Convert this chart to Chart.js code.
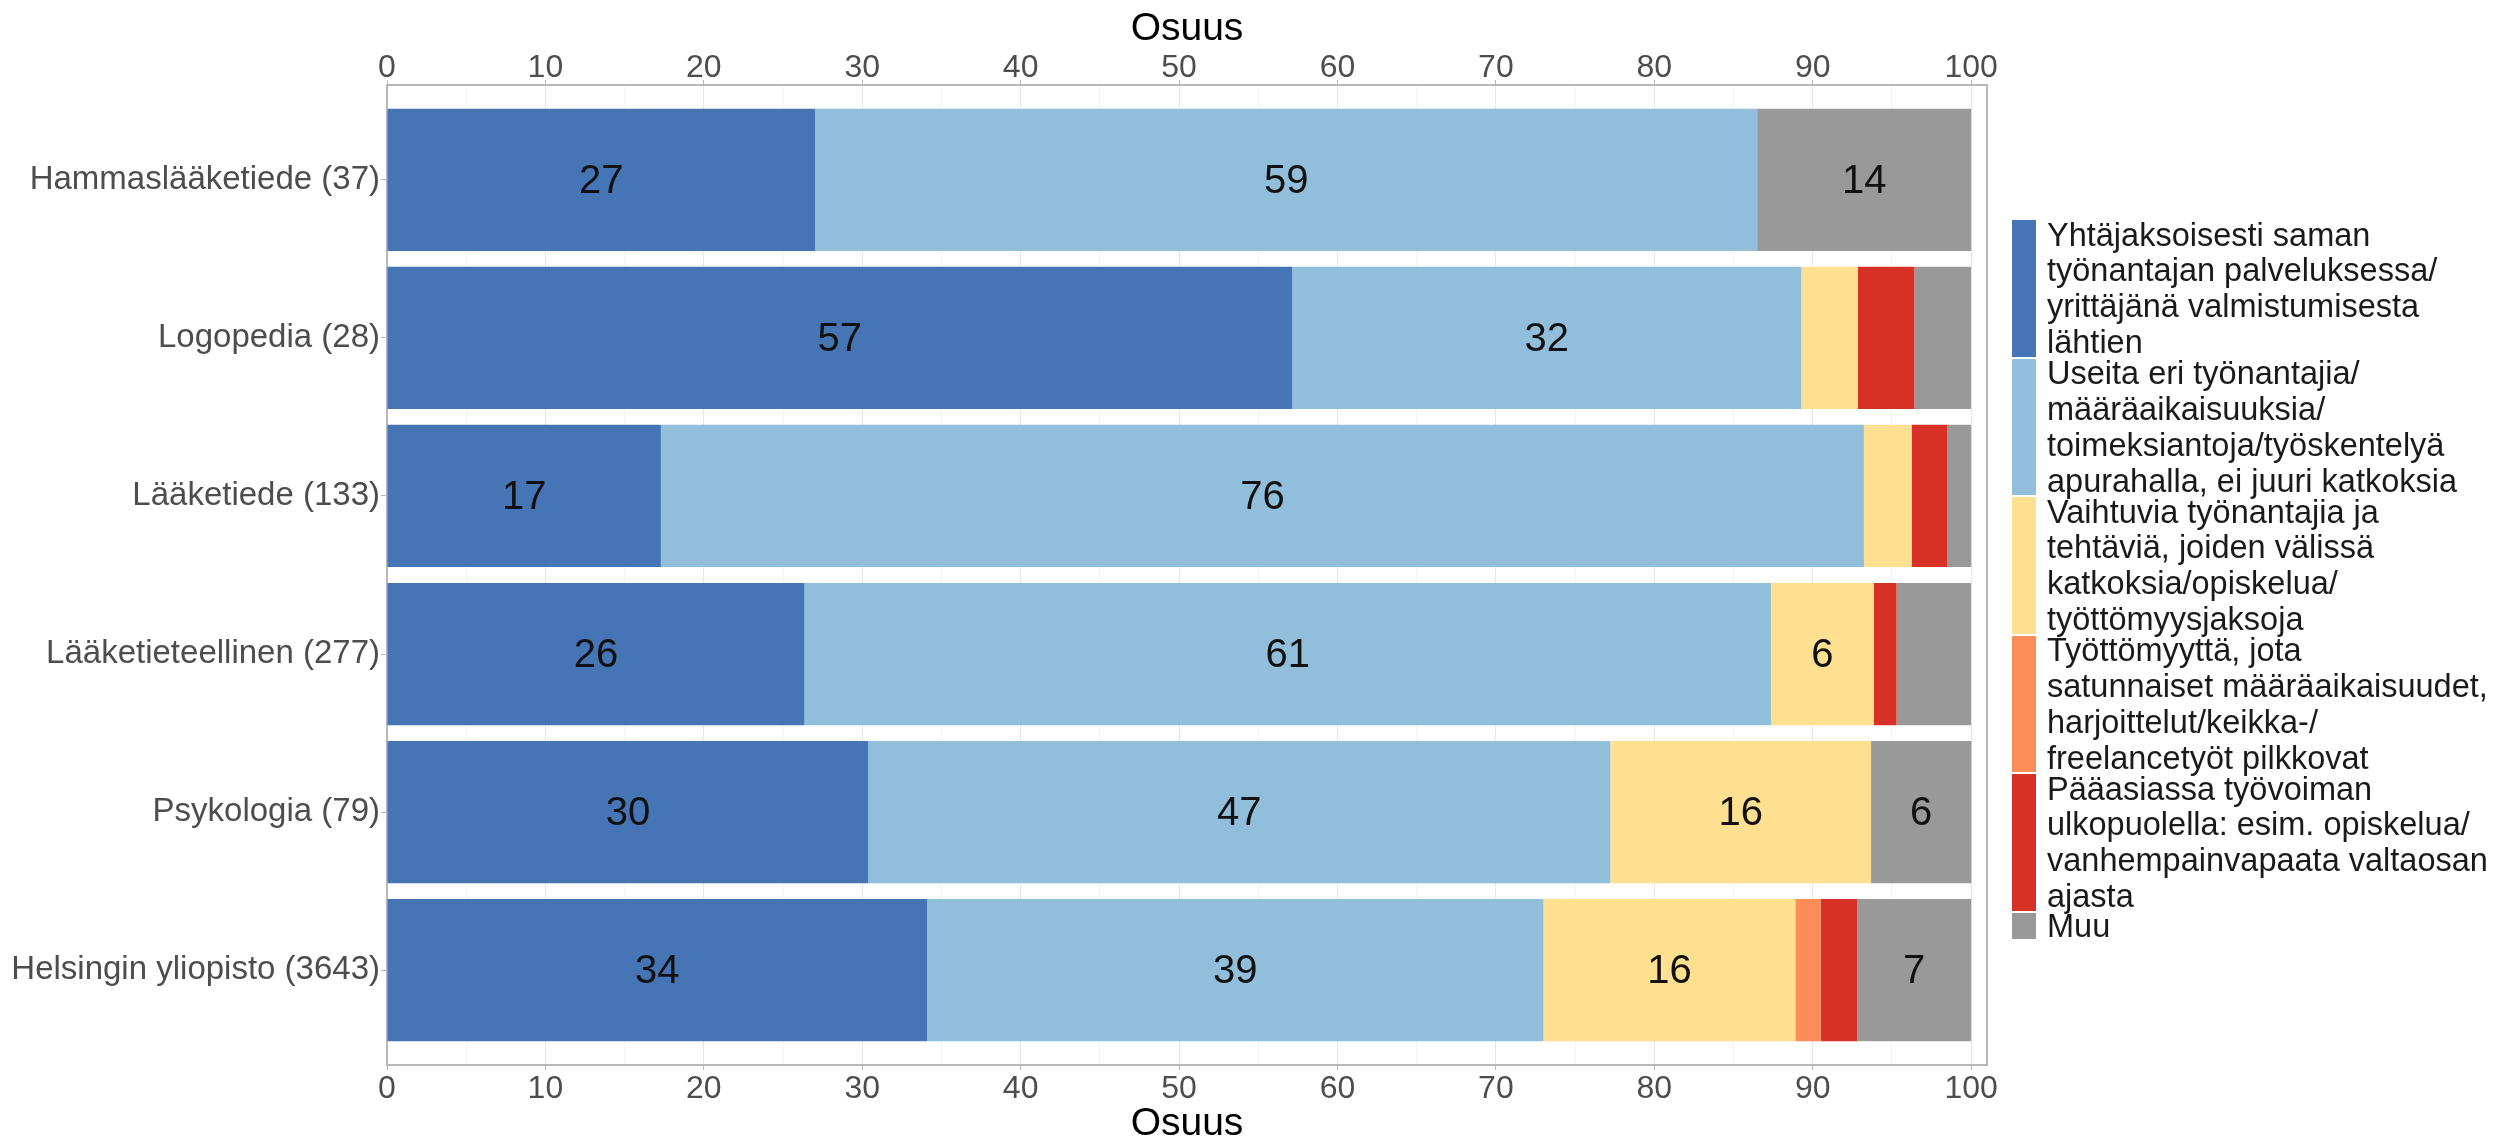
<!DOCTYPE html>
<html>
<head>
<meta charset="utf-8">
<script src="https://cdn.jsdelivr.net/npm/chart.js@4.4.1/dist/chart.umd.min.js"></script>
<style>
  body { margin: 0; background: #fff; }
  #wrap { position: relative; width: 2504px; height: 1140px; }
  #legend { position: absolute; left: 2012px; top: 220px; font-family: "Liberation Sans", Arial, sans-serif; font-size: 32.5px; color: #1a1a1a; }
  .item { display: flex; align-items: center; }
  .key { width: 24px; height: 100%; margin-right: 11px; flex: none; box-sizing: border-box; border-bottom: 2px solid #fff; }
  .txt { white-space: pre-line; line-height: 35.8px; }
</style>
</head>
<body>
<div id="wrap">
  <canvas id="chart" width="2504" height="1140"></canvas>
  <div id="legend"></div>
</div>
<script>
const categories = [
  "Hammaslääketiede (37)",
  "Logopedia (28)",
  "Lääketiede (133)",
  "Lääketieteellinen (277)",
  "Psykologia (79)",
  "Helsingin yliopisto (3643)"
];

const seriesNames = [
  "Yhtäjaksoisesti saman\ntyönantajan palveluksessa/\nyrittäjänä valmistumisesta\nlähtien",
  "Useita eri työnantajia/\nmääräaikaisuuksia/\ntoimeksiantoja/työskentelyä\napurahalla, ei juuri katkoksia",
  "Vaihtuvia työnantajia ja\ntehtäviä, joiden välissä\nkatkoksia/opiskelua/\ntyöttömyysjaksoja",
  "Työttömyyttä, jota\nsatunnaiset määräaikaisuudet,\nharjoittelut/keikka-/\nfreelancetyöt pilkkovat",
  "Pääasiassa työvoiman\nulkopuolella: esim. opiskelua/\nvanhempainvapaata valtaosan\najasta",
  "Muu"
];

const yhtajaksoisesti = [27.03, 57.14, 17.29, 26.35, 30.38, 34.1];
const useita = [59.46, 32.14, 75.94, 61.01, 46.84, 38.9];
const vaihtuvia = [0, 3.57, 3.01, 6.49, 16.46, 15.9];
const tyottomyytta = [0, 0, 0, 0, 0, 1.6];
const paaasiassa = [0, 3.57, 2.26, 1.44, 0, 2.3];
const muu = [13.51, 3.57, 1.50, 4.70, 6.33, 7.2];

const xTickLabels = [0, 10, 20, 30, 40, 50, 60, 70, 80, 90, 100];

const seriesValues = [yhtajaksoisesti, useita, vaihtuvia, tyottomyytta, paaasiassa, muu];
const colors = ["#4575b4", "#91bfdb", "#fee090", "#fc8d59", "#d73027", "#999999"];

const FONT = "'Liberation Sans', Arial, sans-serif";
const GREY_TEXT = "#4d4d4d";
const BORDER = "#b8b8b8";

// major ticks every 10 plus minor gridlines half way between
function xTicks(scale) {
  const t = [];
  xTickLabels.forEach((v, i) => {
    t.push({ value: v });
    if (i < xTickLabels.length - 1) t.push({ value: (v + xTickLabels[i + 1]) / 2 });
  });
  scale.ticks = t;
}
const isMajor = v => xTickLabels.includes(v);

function xAxis(position, height, drawGrid) {
  const top = position === "top";
  return {
    type: "linear",
    position,
    min: 0,
    max: 101,
    stacked: true,
    afterBuildTicks: xTicks,
    afterFit: s => { s.height = height; },
    ticks: {
      font: { family: FONT, size: 32 },
      color: GREY_TEXT,
      padding: top ? -7 : 0,
      autoSkip: false,
      maxRotation: 0,
      callback: v => isMajor(v) ? v : ""
    },
    grid: {
      drawOnChartArea: drawGrid,
      color: ctx => ctx.tick && isMajor(ctx.tick.value) ? "#e6e6e6" : "#f3f3f3",
      tickColor: ctx => ctx.tick && isMajor(ctx.tick.value) ? BORDER : "rgba(0,0,0,0)",
      tickLength: 5
    },
    border: { color: BORDER, width: 2 },
    title: {
      display: true,
      text: "Osuus",
      color: "#000",
      font: { family: FONT, size: 39, lineHeight: 1 },
      padding: top ? { top: 10, bottom: 0 } : { top: 0, bottom: -4 }
    }
  };
}

const barLabels = {
  id: "barLabels",
  afterDatasetsDraw(chart) {
    const ctx = chart.ctx;
    ctx.save();
    ctx.font = "40px " + FONT;
    ctx.fillStyle = "#111";
    ctx.textAlign = "center";
    ctx.textBaseline = "middle";
    chart.data.datasets.forEach((ds, di) => {
      const meta = chart.getDatasetMeta(di);
      meta.data.forEach((el, i) => {
        const v = seriesValues[di][i];
        if (v < 5) return;
        ctx.fillText(Math.round(v), (el.x + el.base) / 2, el.y + 2);
      });
    });
    ctx.restore();
  }
};

new Chart(document.getElementById("chart"), {
  type: "bar",
  data: {
    datasets: seriesValues.map((vals, si) => ({
      label: seriesNames[si],
      data: vals.map((v, i) => ({ x: v, y: i })),
      backgroundColor: colors[si],
      borderWidth: 0,
      categoryPercentage: 0.9,
      barPercentage: 1
    }))
  },
  options: {
    indexAxis: "y",
    responsive: false,
    animation: false,
    layout: { padding: { left: 0, right: 517, top: 0, bottom: 0 } },
    plugins: {
      legend: { display: false },
      tooltip: { enabled: false }
    },
    scales: {
      x: xAxis("bottom", 75, true),
      xTop: xAxis("top", 85, false),
      y: {
        type: "linear",
        min: -0.6,
        max: 5.6,
        reverse: true,
        stacked: true,
        offset: false,
        afterBuildTicks: s => { s.ticks = categories.map((c, i) => ({ value: i })); },
        afterFit: s => { s.width = 387; },
        ticks: {
          font: { family: FONT, size: 33 },
          color: GREY_TEXT,
          padding: 1,
          autoSkip: false,
          callback: v => categories[v]
        },
        grid: { offset: false, drawOnChartArea: false, tickLength: 6, tickColor: BORDER },
        border: { color: BORDER, width: 2 }
      },
      yRight: {
        type: "linear",
        position: "right",
        min: -0.6,
        max: 5.6,
        ticks: { display: false },
        grid: { display: false },
        border: { color: BORDER, width: 2 },
        afterFit: s => { s.width = 0; }
      }
    }
  },
  plugins: [barLabels]
});

// legend: tall keys, multi-line text
const keyHeights = [138.5, 138.5, 138.5, 138.5, 138.5, 28];
const legend = document.getElementById("legend");
seriesNames.forEach((name, i) => {
  const item = document.createElement("div");
  item.className = "item";
  item.style.height = keyHeights[i] + "px";
  const key = document.createElement("div");
  key.className = "key";
  key.style.background = colors[i];
  const txt = document.createElement("div");
  txt.className = "txt";
  txt.textContent = name;
  item.appendChild(key);
  item.appendChild(txt);
  legend.appendChild(item);
});
</script>
</body>
</html>
